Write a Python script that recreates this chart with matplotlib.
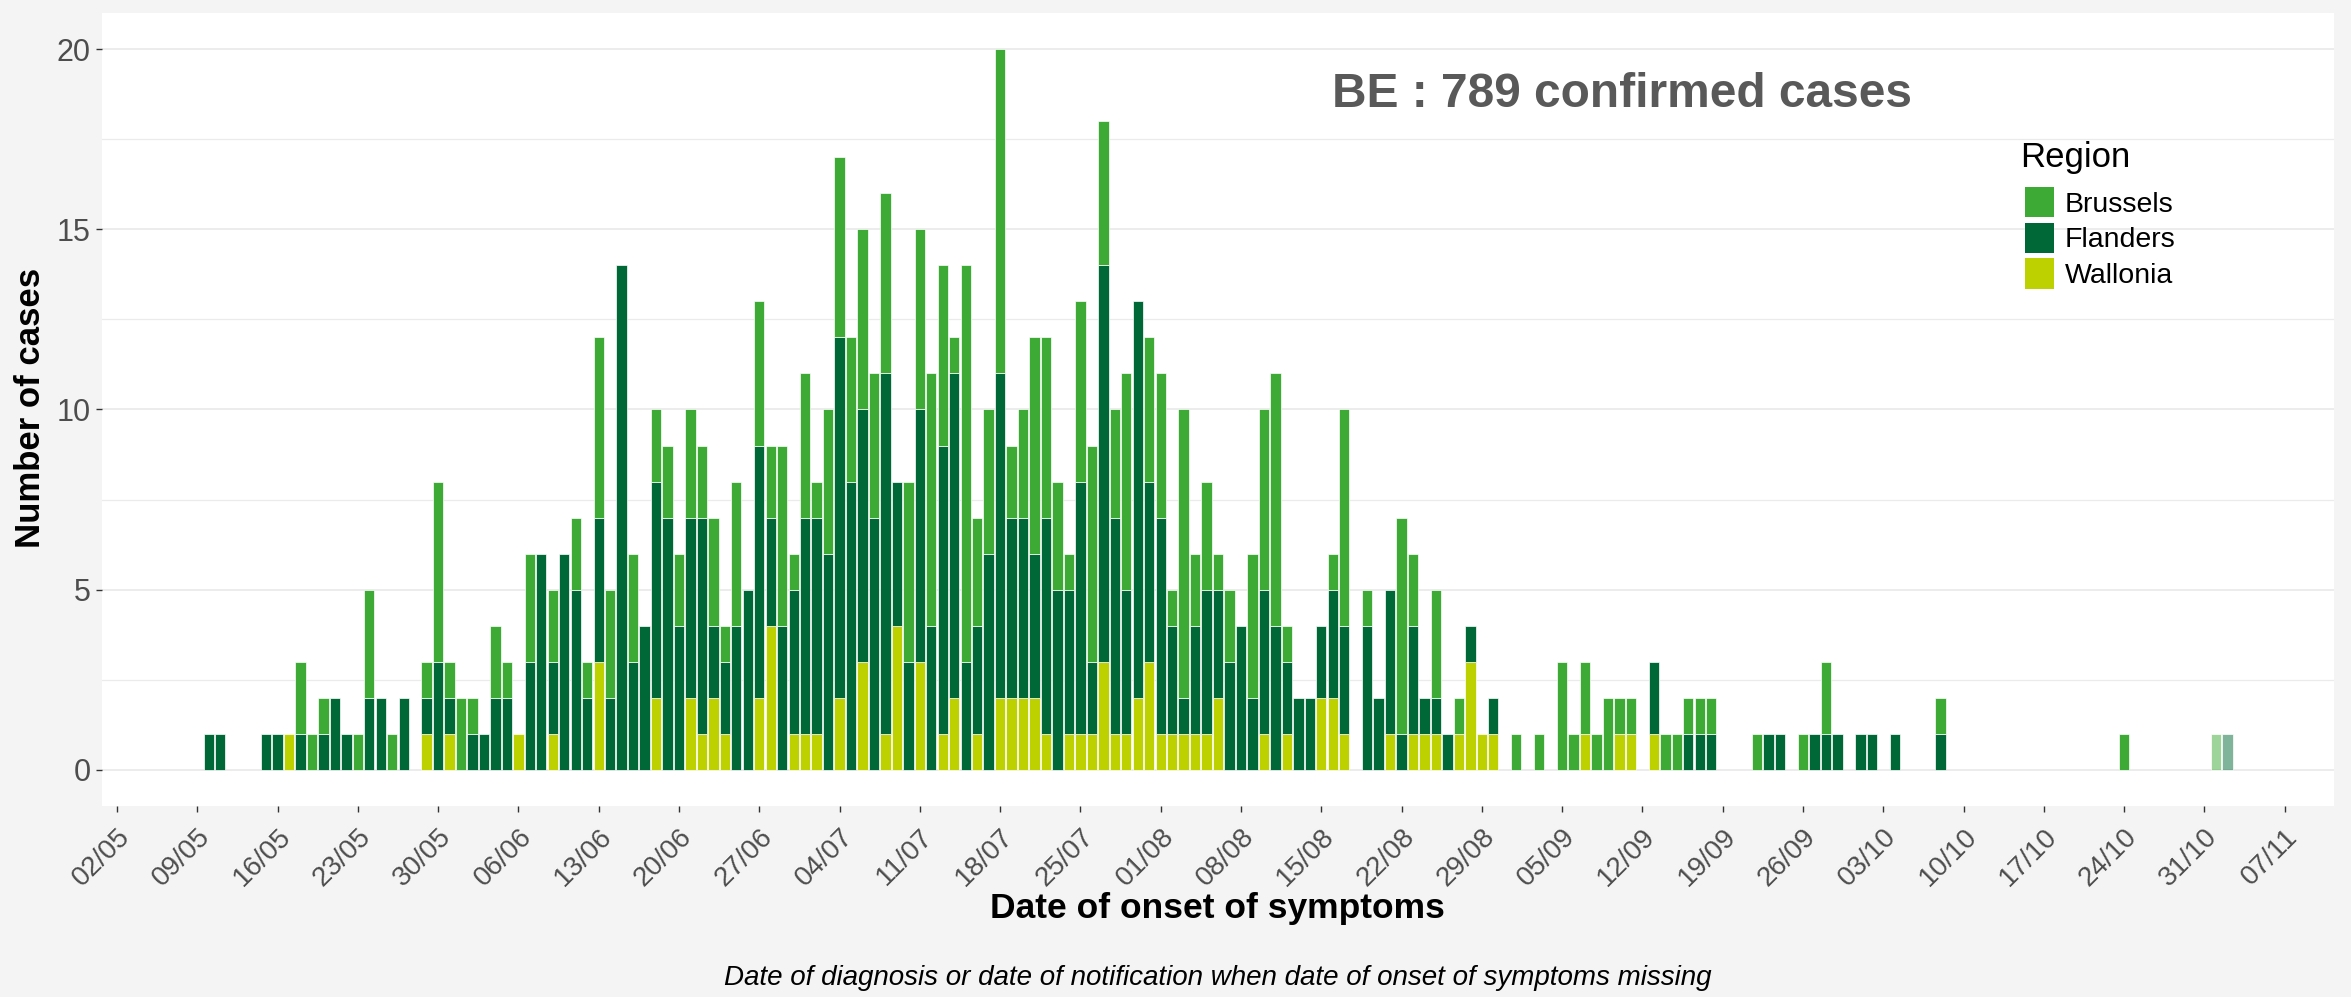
import numpy as np
import pandas as pd
import matplotlib
matplotlib.use("Agg")
import matplotlib.pyplot as plt
import matplotlib.dates as mdates
from matplotlib.colors import to_rgba
from matplotlib.patches import Patch

plt.rcParams['font.family'] = ['Liberation Sans', 'DejaVu Sans']

# Daily confirmed cases by region, by date of onset of symptoms
# one value per day from 10/05/2022 to 02/11/2022
first_day = "2022-05-10"
provisional_from = "2022-11-01"   # last days, incomplete -> drawn faded

brussels = (
    # May 10-31
    [0, 0, 0, 0, 0, 0, 0, 0, 2, 1, 1, 0, 0, 1, 3, 0, 1, 0, 0, 1, 5, 1]
    # June
    + [2, 1, 0, 2, 1, 0, 3, 0, 2, 0, 2, 1, 5, 3, 0, 3, 0, 2, 2, 2, 3, 2, 3, 1, 4, 0, 4, 2, 5, 1]
    # July
    + [4, 1, 4, 5, 4, 5, 4, 5, 0, 5, 5, 7, 5, 1, 11, 3, 4, 9, 2, 3, 6, 5, 3, 1, 5, 6, 4, 3, 6, 0, 4]
    # August
    + [4, 1, 8, 2, 3, 1, 2, 0, 4, 5, 7, 1, 0, 0, 0, 1, 6, 0, 1, 0, 0, 6, 2, 0, 3, 0, 1, 0, 0, 0, 0]
    # September
    + [1, 0, 1, 0, 3, 1, 2, 1, 2, 1, 1, 0, 0, 1, 1, 1, 1, 1, 0, 0, 0, 1, 0, 0, 0, 1, 0, 2, 0, 0]
    # October
    + [0, 0, 0, 0, 0, 0, 0, 1, 0, 0, 0, 0, 0, 0, 0, 0, 0, 0, 0, 0, 0, 0, 0, 1, 0, 0, 0, 0, 0, 0, 0]
    # November 1-2
    + [1, 0]
)

flanders = (
    [1, 1, 0, 0, 0, 1, 1, 0, 1, 0, 1, 2, 1, 0, 2, 2, 0, 2, 0, 1, 3, 1]
    + [0, 1, 1, 2, 2, 0, 3, 6, 2, 6, 5, 2, 4, 2, 14, 3, 4, 6, 7, 4, 5, 6, 2, 2, 4, 5, 7, 3, 4, 4]
    + [6, 6, 6, 10, 8, 7, 7, 10, 4, 3, 7, 4, 8, 9, 3, 3, 6, 9, 5, 5, 4, 6, 5, 4, 7, 2, 11, 6, 4, 11, 5]
    + [6, 3, 1, 3, 4, 3, 3, 4, 2, 4, 4, 2, 2, 2, 2, 3, 3, 0, 4, 2, 4, 1, 3, 1, 1, 1, 0, 1, 0, 1, 0]
    + [0, 0, 0, 0, 0, 0, 0, 0, 0, 0, 0, 0, 2, 0, 0, 1, 1, 1, 0, 0, 0, 0, 1, 1, 0, 0, 1, 1, 1, 0]
    + [1, 1, 0, 1, 0, 0, 0, 1, 0, 0, 0, 0, 0, 0, 0, 0, 0, 0, 0, 0, 0, 0, 0, 0, 0, 0, 0, 0, 0, 0, 0]
    + [0, 1]
)

wallonia = (
    [0, 0, 0, 0, 0, 0, 0, 1, 0, 0, 0, 0, 0, 0, 0, 0, 0, 0, 0, 1, 0, 1]
    + [0, 0, 0, 0, 0, 1, 0, 0, 1, 0, 0, 0, 3, 0, 0, 0, 0, 2, 0, 0, 2, 1, 2, 1, 0, 0, 2, 4, 0, 1]
    + [1, 1, 0, 2, 0, 3, 0, 1, 4, 0, 3, 0, 1, 2, 0, 1, 0, 2, 2, 2, 2, 1, 0, 1, 1, 1, 3, 1, 1, 2, 3]
    + [1, 1, 1, 1, 1, 2, 0, 0, 0, 1, 0, 1, 0, 0, 2, 2, 1, 0, 0, 0, 1, 0, 1, 1, 1, 0, 1, 3, 1, 1, 0]
    + [0, 0, 0, 0, 0, 0, 1, 0, 0, 1, 1, 0, 1, 0, 0, 0, 0, 0, 0, 0, 0, 0, 0, 0, 0, 0, 0, 0, 0, 0]
    + [0] * 31
    + [0, 0]
)

regions = ["Brussels", "Flanders", "Wallonia"]
colors = {"Brussels": "#3DAA35", "Flanders": "#006837", "Wallonia": "#BDD000"}

days = pd.date_range(first_day, periods=len(brussels), freq="D")
x = mdates.date2num(days)
faded = days >= pd.Timestamp(provisional_from)
total = sum(brussels) + sum(flanders) + sum(wallonia)

fig = plt.figure(figsize=(23.51, 9.97), dpi=100, facecolor="#F4F4F4")
ax = fig.add_axes([0.0434, 0.1916, 0.9494, 0.7954])
ax.set_facecolor("white")

# stacked bars: Wallonia at the bottom, then Flanders, then Brussels
bottom = np.zeros(len(days))
for name, vals in [("Wallonia", wallonia), ("Flanders", flanders), ("Brussels", brussels)]:
    vals = np.array(vals, dtype=float)
    keep = vals > 0
    cols = [to_rgba(colors[name], 0.5 if f else 1.0) for f in faded[keep]]
    ax.bar(x[keep], vals[keep], width=0.9, bottom=bottom[keep], color=cols,
           edgecolor="white", linewidth=0.5, zorder=2)
    bottom += vals

# axes
start = pd.Timestamp("2022-05-02")
ax.set_xlim(mdates.date2num(start) - 1.3, mdates.date2num(start) + 193.3)
ax.set_ylim(-1, 21)

ticks = pd.date_range("2022-05-02", "2022-11-07", freq="7D")
ax.set_xticks(mdates.date2num(ticks))
ax.set_xticklabels(ticks.strftime("%d/%m"), rotation=45, ha="right", va="top",
                   rotation_mode="anchor")
ax.set_yticks([0, 5, 10, 15, 20])
ax.set_yticks([2.5, 7.5, 12.5, 17.5], minor=True)

ax.grid(which="major", axis="y", color="#EBEBEB", linewidth=1.3, zorder=0)
ax.grid(which="minor", axis="y", color="#EBEBEB", linewidth=0.9, zorder=0)
ax.set_axisbelow(True)
for s in ax.spines.values():
    s.set_visible(False)

ax.tick_params(axis="both", which="major", labelcolor="#4D4D4D",
               color="#333333", length=4, width=1)
ax.tick_params(axis="x", pad=9, labelsize=20)
ax.tick_params(axis="y", pad=4, labelsize=22)
ax.tick_params(which="minor", length=0)

# texts
ax.text(0.551, 0.897, f"BE : {total} confirmed cases", transform=ax.transAxes,
        fontsize=34.5, fontweight="bold", color="#595959", va="center", ha="left")

fig.text(0.518, 0.089, "Date of onset of symptoms", ha="center", va="center",
         fontsize=25.5, fontweight="bold", color="black")
fig.text(0.0128, 0.591, "Number of cases", rotation=90, ha="center", va="center",
         fontsize=25, fontweight="bold", color="black")
fig.text(0.518, 0.019,
         "Date of diagnosis or date of notification when date of onset of symptoms missing",
         ha="center", va="center", fontsize=20, style="italic", color="black")

# legend
ax.text(0.8593, 0.818, "Region", transform=ax.transAxes, fontsize=25,
        ha="left", va="center", color="black")
handles = [Patch(facecolor=colors[r], edgecolor="none", label=r) for r in regions]
ax.legend(handles=handles, loc="upper left", bbox_to_anchor=(0.8616, 0.7806),
          frameon=False, fontsize=20.5, borderpad=0, borderaxespad=0,
          handlelength=1.0, handleheight=1.25, labelspacing=0.18, handletextpad=0.4)

fig.savefig("out.png", dpi=100, facecolor=fig.get_facecolor())
